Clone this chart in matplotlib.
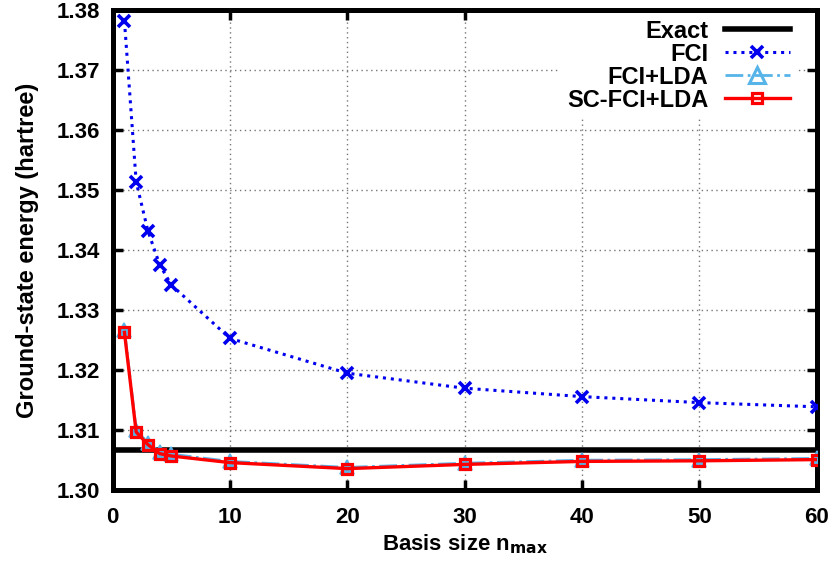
import matplotlib
matplotlib.use("Agg")
import matplotlib.pyplot as plt

# basis size and energies (hartree)
nmax = [1, 2, 3, 4, 5, 10, 20, 30, 40, 50, 60]
e_exact = 1.3067
e_fci = [1.3782, 1.3514, 1.3432, 1.3376, 1.3342, 1.3253, 1.3195, 1.3170, 1.3156, 1.3146, 1.3139]
e_fci_lda = [1.3267, 1.3100, 1.3079, 1.3064, 1.3060, 1.3048, 1.3038, 1.3045, 1.3050, 1.3051, 1.3053]
e_scfci_lda = [1.3263, 1.3097, 1.3076, 1.3061, 1.3057, 1.3046, 1.3036, 1.3043, 1.3048, 1.3049, 1.3051]

yticks = [1.30, 1.31, 1.32, 1.33, 1.34, 1.35, 1.36, 1.37, 1.38]

plt.rcParams['font.family'] = ['Liberation Sans', 'DejaVu Sans']
plt.rcParams['font.weight'] = 'bold'
plt.rcParams['font.size'] = 16

fig = plt.figure(figsize=(8.35, 5.70), dpi=100)
ax = fig.add_axes([0.135, 0.140, 0.843, 0.842])

ax.axhline(e_exact, color='black', lw=4, label='Exact', zorder=3)
ax.plot(nmax, e_fci, color='#0000ee', ls=(0, (1, 1.6)), lw=2.2, marker='x',
        ms=8, mew=2.6, label='FCI', zorder=4)
ax.plot(nmax, e_fci_lda, color='#56b4e9', ls='-.', lw=2, marker='^',
        ms=10.5, mfc='#56b4e9', mew=1.2, label='FCI+LDA', zorder=4)
ax.plot(nmax, e_scfci_lda, color='#ff0000', lw=2.4, marker='s',
        ms=7.5, mfc='none', mew=2.3, label='SC-FCI+LDA', zorder=5)

ax.set_xlim(0, 60)
ax.set_ylim(1.30, 1.38)
ax.set_xticks([0, 10, 20, 30, 40, 50, 60])
ax.set_yticks(yticks)
ax.set_yticklabels(['%.2f' % v for v in yticks])
ax.grid(True, color='#777777', ls=(0, (1, 2.5)), lw=1)
ax.tick_params(direction='in', length=7, width=2.5, top=True, right=True)
ax.tick_params(axis='x', pad=12)
ax.tick_params(axis='y', pad=9)
for s in ax.spines.values():
    s.set_linewidth(3.6)

ax.set_xlabel('Basis size n$_{\\mathbf{max}}$', fontweight='bold', labelpad=3)
ax.set_ylabel('Ground-state energy (hartree)', fontweight='bold', fontsize=17,
              labelpad=13)

leg = ax.legend(loc='upper right', bbox_to_anchor=(0.975, 1.0), markerfirst=False,
                frameon=True, fancybox=False, edgecolor='none', facecolor='white',
                framealpha=1, handlelength=2.75, handletextpad=0.7,
                labelspacing=0.0, borderpad=0.3, borderaxespad=0.1, fontsize=17)
leg.set_zorder(6)
for col in leg._legend_handle_box.get_children():
    col.align = 'right'
for h in leg.legend_handles:
    if hasattr(h, 'get_marker') and h.get_marker() == '^':
        h.set_markerfacecolor('none')
        h.set_markersize(11)
        h.set_markeredgewidth(2.2)

fig.savefig('out.png', dpi=100)
